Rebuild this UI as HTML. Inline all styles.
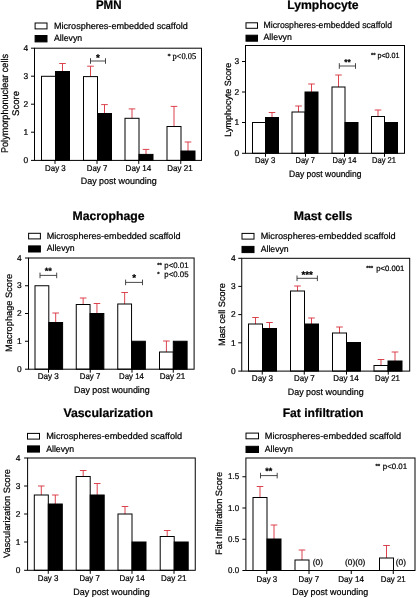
<!DOCTYPE html>
<html><head><meta charset="utf-8"><title>Histology scores</title>
<style>
html,body{margin:0;padding:0;background:#fff;}
svg{display:block;font-family:"Liberation Sans",sans-serif;}
text{stroke:#000;stroke-width:0.22px;text-rendering:geometricPrecision;}
</style></head>
<body>
<div style="will-change:transform;width:416px;height:598px">
<svg width="416" height="598" viewBox="0 0 416 598">
<rect x="0" y="0" width="416" height="598" fill="#fff"/>
<line x1="31" y1="48.2" x2="34.5" y2="48.2" stroke="#000" stroke-width="1"/>
<text x="28.1" y="50.92" font-size="8.4" text-anchor="end">4</text>
<line x1="31" y1="76.2" x2="34.5" y2="76.2" stroke="#000" stroke-width="1"/>
<text x="28.1" y="78.92" font-size="8.4" text-anchor="end">3</text>
<line x1="31" y1="104.2" x2="34.5" y2="104.2" stroke="#000" stroke-width="1"/>
<text x="28.1" y="106.92" font-size="8.4" text-anchor="end">2</text>
<line x1="31" y1="132.2" x2="34.5" y2="132.2" stroke="#000" stroke-width="1"/>
<text x="28.1" y="134.92" font-size="8.4" text-anchor="end">1</text>
<line x1="31" y1="160.4" x2="34.5" y2="160.4" stroke="#000" stroke-width="1"/>
<text x="28.1" y="163.12" font-size="8.4" text-anchor="end">0</text>
<line x1="62.5" y1="63.5" x2="62.5" y2="71.5" stroke="#d93a44" stroke-width="0.95"/>
<line x1="59.2" y1="63.5" x2="65.8" y2="63.5" stroke="#d93a44" stroke-width="0.95"/>
<rect x="41.5" y="76.3" width="14" height="84.1" fill="#fff" stroke="#000" stroke-width="1"/>
<rect x="55.5" y="71.5" width="14" height="88.9" fill="#000" stroke="#000" stroke-width="1"/>
<line x1="90.5" y1="66.2" x2="90.5" y2="76.6" stroke="#d93a44" stroke-width="0.95"/>
<line x1="87.2" y1="66.2" x2="93.8" y2="66.2" stroke="#d93a44" stroke-width="0.95"/>
<line x1="104.5" y1="104.6" x2="104.5" y2="113.5" stroke="#d93a44" stroke-width="0.95"/>
<line x1="101.2" y1="104.6" x2="107.8" y2="104.6" stroke="#d93a44" stroke-width="0.95"/>
<rect x="83.5" y="76.6" width="14" height="83.8" fill="#fff" stroke="#000" stroke-width="1"/>
<rect x="97.5" y="113.5" width="14" height="46.9" fill="#000" stroke="#000" stroke-width="1"/>
<line x1="132" y1="108.9" x2="132" y2="118.3" stroke="#d93a44" stroke-width="0.95"/>
<line x1="128.7" y1="108.9" x2="135.3" y2="108.9" stroke="#d93a44" stroke-width="0.95"/>
<line x1="146" y1="149.4" x2="146" y2="154.4" stroke="#d93a44" stroke-width="0.95"/>
<line x1="142.7" y1="149.4" x2="149.3" y2="149.4" stroke="#d93a44" stroke-width="0.95"/>
<rect x="125" y="118.3" width="14" height="42.1" fill="#fff" stroke="#000" stroke-width="1"/>
<rect x="139" y="154.4" width="14" height="6" fill="#000" stroke="#000" stroke-width="1"/>
<line x1="174" y1="106.4" x2="174" y2="126.5" stroke="#d93a44" stroke-width="0.95"/>
<line x1="170.7" y1="106.4" x2="177.3" y2="106.4" stroke="#d93a44" stroke-width="0.95"/>
<line x1="188" y1="142" x2="188" y2="151" stroke="#d93a44" stroke-width="0.95"/>
<line x1="184.7" y1="142" x2="191.3" y2="142" stroke="#d93a44" stroke-width="0.95"/>
<rect x="167" y="126.5" width="14" height="33.9" fill="#fff" stroke="#000" stroke-width="1"/>
<rect x="181" y="151" width="14" height="9.4" fill="#000" stroke="#000" stroke-width="1"/>
<rect x="34.5" y="48.2" width="167" height="112.2" fill="none" stroke="#000" stroke-width="1"/>
<line x1="55" y1="160.4" x2="55" y2="163.9" stroke="#000" stroke-width="1"/>
<text x="55.4" y="170.5" font-size="8.4" text-anchor="middle" textLength="20.75" lengthAdjust="spacingAndGlyphs">Day 3</text>
<line x1="97" y1="160.4" x2="97" y2="163.9" stroke="#000" stroke-width="1"/>
<text x="97" y="170.5" font-size="8.4" text-anchor="middle" textLength="20.5" lengthAdjust="spacingAndGlyphs">Day 7</text>
<line x1="138.75" y1="160.4" x2="138.75" y2="163.9" stroke="#000" stroke-width="1"/>
<text x="138.4" y="170.5" font-size="8.4" text-anchor="middle" textLength="25.75" lengthAdjust="spacingAndGlyphs">Day 14</text>
<line x1="180.75" y1="160.4" x2="180.75" y2="163.9" stroke="#000" stroke-width="1"/>
<text x="180" y="170.5" font-size="8.4" text-anchor="middle" textLength="25.5" lengthAdjust="spacingAndGlyphs">Day 21</text>
<text x="118.75" y="184.25" font-size="9.2" text-anchor="middle" textLength="76" lengthAdjust="spacingAndGlyphs">Day post wounding</text>
<text x="8.4" y="103.5" font-size="9.8" text-anchor="middle" transform="rotate(-90 8.4 103.5)" textLength="99" lengthAdjust="spacingAndGlyphs">Polymorphonuclear cells</text>
<text x="18.6" y="103.5" font-size="9.6" text-anchor="middle" transform="rotate(-90 18.6 103.5)" textLength="25" lengthAdjust="spacingAndGlyphs">Score</text>
<text x="108.7" y="9.4" font-size="12.2" text-anchor="middle" textLength="25.6" lengthAdjust="spacingAndGlyphs" font-weight="bold">PMN</text>
<rect x="35.1" y="23" width="11.9" height="5.9" fill="#fff" stroke="#000" stroke-width="1"/>
<rect x="35.1" y="35.5" width="11.9" height="6.4" fill="#000" stroke="#000" stroke-width="1"/>
<text x="54" y="28.5" font-size="9" text-anchor="start" textLength="133.75" lengthAdjust="spacingAndGlyphs">Microspheres-embedded scaffold</text>
<text x="54" y="41.3" font-size="9" text-anchor="start" textLength="28.1" lengthAdjust="spacingAndGlyphs">Allevyn</text>
<line x1="90.5" y1="61" x2="105.5" y2="61" stroke="#333" stroke-width="0.9"/>
<line x1="90.5" y1="58.2" x2="90.5" y2="63.8" stroke="#333" stroke-width="0.9"/>
<line x1="105.5" y1="58.2" x2="105.5" y2="63.8" stroke="#333" stroke-width="0.9"/>
<text x="98" y="61" font-size="9.8" text-anchor="middle" font-weight="bold">*</text>
<text x="167.4" y="57.6" font-size="6.4" text-anchor="start" font-family="Liberation Serif, serif">*</text>
<text x="172.4" y="59" font-size="8.8" text-anchor="start" textLength="23.8" lengthAdjust="spacingAndGlyphs" font-family="Liberation Serif, serif">p&lt;0.05</text>
<line x1="242" y1="61.5" x2="245.5" y2="61.5" stroke="#000" stroke-width="1"/>
<text x="239.1" y="64.22" font-size="8.4" text-anchor="end">3</text>
<line x1="242" y1="92" x2="245.5" y2="92" stroke="#000" stroke-width="1"/>
<text x="239.1" y="94.72" font-size="8.4" text-anchor="end">2</text>
<line x1="242" y1="122.5" x2="245.5" y2="122.5" stroke="#000" stroke-width="1"/>
<text x="239.1" y="125.22" font-size="8.4" text-anchor="end">1</text>
<line x1="242" y1="153.3" x2="245.5" y2="153.3" stroke="#000" stroke-width="1"/>
<text x="239.1" y="156.02" font-size="8.4" text-anchor="end">0</text>
<line x1="272" y1="112.5" x2="272" y2="117.5" stroke="#d93a44" stroke-width="0.95"/>
<line x1="268.7" y1="112.5" x2="275.3" y2="112.5" stroke="#d93a44" stroke-width="0.95"/>
<rect x="252.5" y="122.5" width="13" height="30.8" fill="#fff" stroke="#000" stroke-width="1"/>
<rect x="265.5" y="117.5" width="13" height="35.8" fill="#000" stroke="#000" stroke-width="1"/>
<line x1="298.5" y1="106" x2="298.5" y2="112" stroke="#d93a44" stroke-width="0.95"/>
<line x1="295.2" y1="106" x2="301.8" y2="106" stroke="#d93a44" stroke-width="0.95"/>
<line x1="311.5" y1="84" x2="311.5" y2="92" stroke="#d93a44" stroke-width="0.95"/>
<line x1="308.2" y1="84" x2="314.8" y2="84" stroke="#d93a44" stroke-width="0.95"/>
<rect x="292" y="112" width="13" height="41.3" fill="#fff" stroke="#000" stroke-width="1"/>
<rect x="305" y="92" width="13" height="61.3" fill="#000" stroke="#000" stroke-width="1"/>
<line x1="338.5" y1="75" x2="338.5" y2="87" stroke="#d93a44" stroke-width="0.95"/>
<line x1="335.2" y1="75" x2="341.8" y2="75" stroke="#d93a44" stroke-width="0.95"/>
<rect x="332" y="87" width="13" height="66.3" fill="#fff" stroke="#000" stroke-width="1"/>
<rect x="345" y="122.5" width="13" height="30.8" fill="#000" stroke="#000" stroke-width="1"/>
<line x1="378" y1="110" x2="378" y2="116.5" stroke="#d93a44" stroke-width="0.95"/>
<line x1="374.7" y1="110" x2="381.3" y2="110" stroke="#d93a44" stroke-width="0.95"/>
<rect x="371.5" y="116.5" width="13" height="36.8" fill="#fff" stroke="#000" stroke-width="1"/>
<rect x="384.5" y="122.5" width="13" height="30.8" fill="#000" stroke="#000" stroke-width="1"/>
<rect x="245.5" y="45.5" width="159" height="107.8" fill="none" stroke="#000" stroke-width="1"/>
<line x1="265.5" y1="153.3" x2="265.5" y2="156.8" stroke="#000" stroke-width="1"/>
<text x="265.1" y="163.3" font-size="8.4" text-anchor="middle" textLength="20.4" lengthAdjust="spacingAndGlyphs">Day 3</text>
<line x1="305.5" y1="153.3" x2="305.5" y2="156.8" stroke="#000" stroke-width="1"/>
<text x="305.25" y="163.3" font-size="8.4" text-anchor="middle" textLength="19.5" lengthAdjust="spacingAndGlyphs">Day 7</text>
<line x1="344.5" y1="153.3" x2="344.5" y2="156.8" stroke="#000" stroke-width="1"/>
<text x="344.5" y="163.3" font-size="8.4" text-anchor="middle" textLength="24" lengthAdjust="spacingAndGlyphs">Day 14</text>
<line x1="384.5" y1="153.3" x2="384.5" y2="156.8" stroke="#000" stroke-width="1"/>
<text x="384" y="163.3" font-size="8.4" text-anchor="middle" textLength="24" lengthAdjust="spacingAndGlyphs">Day 21</text>
<text x="325.25" y="177.2" font-size="9.2" text-anchor="middle" textLength="72.5" lengthAdjust="spacingAndGlyphs">Day post wounding</text>
<text x="230.6" y="99.7" font-size="9" text-anchor="middle" transform="rotate(-90 230.6 99.7)" textLength="74" lengthAdjust="spacingAndGlyphs">Lymphocyte Score</text>
<text x="322.9" y="9.3" font-size="12.2" text-anchor="middle" textLength="71.4" lengthAdjust="spacingAndGlyphs" font-weight="bold">Lymphocyte</text>
<rect x="246" y="22.8" width="11.5" height="5.5" fill="#fff" stroke="#000" stroke-width="1"/>
<rect x="246" y="35.2" width="11.5" height="6" fill="#000" stroke="#000" stroke-width="1"/>
<text x="263.5" y="27.8" font-size="9" text-anchor="start" textLength="128.5" lengthAdjust="spacingAndGlyphs">Microspheres-embedded scaffold</text>
<text x="263.5" y="40.3" font-size="9" text-anchor="start" textLength="28.3" lengthAdjust="spacingAndGlyphs">Allevyn</text>
<line x1="339.3" y1="66" x2="355.5" y2="66" stroke="#333" stroke-width="0.9"/>
<line x1="339.3" y1="63.2" x2="339.3" y2="68.8" stroke="#333" stroke-width="0.9"/>
<line x1="355.5" y1="63.2" x2="355.5" y2="68.8" stroke="#333" stroke-width="0.9"/>
<text x="347.4" y="65.3" font-size="8.4" text-anchor="middle" font-weight="bold">**</text>
<text x="371" y="56.9" font-size="6" text-anchor="start" font-weight="bold">**</text><text x="377.5" y="57.9" font-size="7.6" text-anchor="start" textLength="22" lengthAdjust="spacingAndGlyphs">p&lt;0.01</text>
<line x1="25" y1="258" x2="28.5" y2="258" stroke="#000" stroke-width="1"/>
<text x="21.6" y="260.72" font-size="8.4" text-anchor="end">4</text>
<line x1="25" y1="285.75" x2="28.5" y2="285.75" stroke="#000" stroke-width="1"/>
<text x="21.6" y="288.47" font-size="8.4" text-anchor="end">3</text>
<line x1="25" y1="313.5" x2="28.5" y2="313.5" stroke="#000" stroke-width="1"/>
<text x="21.6" y="316.22" font-size="8.4" text-anchor="end">2</text>
<line x1="25" y1="341.25" x2="28.5" y2="341.25" stroke="#000" stroke-width="1"/>
<text x="21.6" y="343.97" font-size="8.4" text-anchor="end">1</text>
<line x1="25" y1="369.2" x2="28.5" y2="369.2" stroke="#000" stroke-width="1"/>
<text x="21.6" y="371.92" font-size="8.4" text-anchor="end">0</text>
<line x1="55.7" y1="313" x2="55.7" y2="322.5" stroke="#d93a44" stroke-width="0.95"/>
<line x1="52.4" y1="313" x2="59" y2="313" stroke="#d93a44" stroke-width="0.95"/>
<rect x="35" y="285.75" width="13.8" height="83.45" fill="#fff" stroke="#000" stroke-width="1"/>
<rect x="48.8" y="322.5" width="13.8" height="46.7" fill="#000" stroke="#000" stroke-width="1"/>
<line x1="83.15" y1="298" x2="83.15" y2="304.5" stroke="#d93a44" stroke-width="0.95"/>
<line x1="79.85" y1="298" x2="86.45" y2="298" stroke="#d93a44" stroke-width="0.95"/>
<line x1="96.95" y1="303.5" x2="96.95" y2="313.5" stroke="#d93a44" stroke-width="0.95"/>
<line x1="93.65" y1="303.5" x2="100.25" y2="303.5" stroke="#d93a44" stroke-width="0.95"/>
<rect x="76.25" y="304.5" width="13.8" height="64.7" fill="#fff" stroke="#000" stroke-width="1"/>
<rect x="90.05" y="313.5" width="13.8" height="55.7" fill="#000" stroke="#000" stroke-width="1"/>
<line x1="124.65" y1="292.5" x2="124.65" y2="304" stroke="#d93a44" stroke-width="0.95"/>
<line x1="121.35" y1="292.5" x2="127.95" y2="292.5" stroke="#d93a44" stroke-width="0.95"/>
<rect x="117.75" y="304" width="13.8" height="65.2" fill="#fff" stroke="#000" stroke-width="1"/>
<rect x="131.55" y="341.25" width="13.8" height="27.95" fill="#000" stroke="#000" stroke-width="1"/>
<line x1="166.4" y1="341" x2="166.4" y2="352" stroke="#d93a44" stroke-width="0.95"/>
<line x1="163.1" y1="341" x2="169.7" y2="341" stroke="#d93a44" stroke-width="0.95"/>
<rect x="159.5" y="352" width="13.8" height="17.2" fill="#fff" stroke="#000" stroke-width="1"/>
<rect x="173.3" y="341.25" width="13.8" height="27.95" fill="#000" stroke="#000" stroke-width="1"/>
<rect x="28.5" y="258" width="165.6" height="111.2" fill="none" stroke="#000" stroke-width="1"/>
<line x1="48.5" y1="369.2" x2="48.5" y2="372.7" stroke="#000" stroke-width="1"/>
<text x="48.3" y="379.4" font-size="8.4" text-anchor="middle" textLength="21.2" lengthAdjust="spacingAndGlyphs">Day 3</text>
<line x1="90.25" y1="369.2" x2="90.25" y2="372.7" stroke="#000" stroke-width="1"/>
<text x="90" y="379.4" font-size="8.4" text-anchor="middle" textLength="20.5" lengthAdjust="spacingAndGlyphs">Day 7</text>
<line x1="132" y1="369.2" x2="132" y2="372.7" stroke="#000" stroke-width="1"/>
<text x="131.5" y="379.4" font-size="8.4" text-anchor="middle" textLength="25" lengthAdjust="spacingAndGlyphs">Day 14</text>
<line x1="173.25" y1="369.2" x2="173.25" y2="372.7" stroke="#000" stroke-width="1"/>
<text x="172.5" y="379.4" font-size="8.4" text-anchor="middle" textLength="25.5" lengthAdjust="spacingAndGlyphs">Day 21</text>
<text x="111.9" y="392.75" font-size="9.2" text-anchor="middle" textLength="75.75" lengthAdjust="spacingAndGlyphs">Day post wounding</text>
<text x="11.8" y="312.9" font-size="9.2" text-anchor="middle" transform="rotate(-90 11.8 312.9)" textLength="78" lengthAdjust="spacingAndGlyphs">Macrophage Score</text>
<text x="108.5" y="220.1" font-size="12.2" text-anchor="middle" textLength="72.1" lengthAdjust="spacingAndGlyphs" font-weight="bold">Macrophage</text>
<rect x="28.6" y="233.3" width="11.8" height="5.6" fill="#fff" stroke="#000" stroke-width="1"/>
<rect x="28.6" y="245.9" width="11.8" height="6.1" fill="#000" stroke="#000" stroke-width="1"/>
<text x="46.7" y="238.7" font-size="9" text-anchor="start" textLength="133.75" lengthAdjust="spacingAndGlyphs">Microspheres-embedded scaffold</text>
<text x="46.7" y="251.3" font-size="9" text-anchor="start" textLength="28" lengthAdjust="spacingAndGlyphs">Allevyn</text>
<line x1="40" y1="275.4" x2="56.7" y2="275.4" stroke="#333" stroke-width="0.9"/>
<line x1="40" y1="272.6" x2="40" y2="278.2" stroke="#333" stroke-width="0.9"/>
<line x1="56.7" y1="272.6" x2="56.7" y2="278.2" stroke="#333" stroke-width="0.9"/>
<text x="48.35" y="273.7" font-size="9.2" text-anchor="middle" font-weight="bold">**</text>
<line x1="125.6" y1="282.4" x2="142.5" y2="282.4" stroke="#333" stroke-width="0.9"/>
<line x1="125.6" y1="279.6" x2="125.6" y2="285.2" stroke="#333" stroke-width="0.9"/>
<line x1="142.5" y1="279.6" x2="142.5" y2="285.2" stroke="#333" stroke-width="0.9"/>
<text x="134.05" y="280.8" font-size="9.8" text-anchor="middle" font-weight="bold">*</text>
<text x="157.2" y="266.8" font-size="6" text-anchor="start" font-weight="bold">**</text><text x="164.3" y="267.8" font-size="8" text-anchor="start" textLength="24.2" lengthAdjust="spacingAndGlyphs">p&lt;0.01</text>
<text x="157.2" y="275.7" font-size="6" text-anchor="start" font-weight="bold">*</text><text x="164.3" y="276.7" font-size="8" text-anchor="start" textLength="24.2" lengthAdjust="spacingAndGlyphs">p&lt;0.05</text>
<line x1="238.25" y1="258.3" x2="241.75" y2="258.3" stroke="#000" stroke-width="1"/>
<text x="235.55" y="261.02" font-size="8.4" text-anchor="end">4</text>
<line x1="238.25" y1="286.4" x2="241.75" y2="286.4" stroke="#000" stroke-width="1"/>
<text x="235.55" y="289.12" font-size="8.4" text-anchor="end">3</text>
<line x1="238.25" y1="314.6" x2="241.75" y2="314.6" stroke="#000" stroke-width="1"/>
<text x="235.55" y="317.32" font-size="8.4" text-anchor="end">2</text>
<line x1="238.25" y1="342.8" x2="241.75" y2="342.8" stroke="#000" stroke-width="1"/>
<text x="235.55" y="345.52" font-size="8.4" text-anchor="end">1</text>
<line x1="238.25" y1="371.1" x2="241.75" y2="371.1" stroke="#000" stroke-width="1"/>
<text x="235.55" y="373.82" font-size="8.4" text-anchor="end">0</text>
<line x1="255.5" y1="317.5" x2="255.5" y2="324" stroke="#d93a44" stroke-width="0.95"/>
<line x1="252.2" y1="317.5" x2="258.8" y2="317.5" stroke="#d93a44" stroke-width="0.95"/>
<line x1="269.5" y1="322.5" x2="269.5" y2="328.5" stroke="#d93a44" stroke-width="0.95"/>
<line x1="266.2" y1="322.5" x2="272.8" y2="322.5" stroke="#d93a44" stroke-width="0.95"/>
<rect x="248.5" y="324" width="14" height="47.1" fill="#fff" stroke="#000" stroke-width="1"/>
<rect x="262.5" y="328.5" width="14" height="42.6" fill="#000" stroke="#000" stroke-width="1"/>
<line x1="297.5" y1="286" x2="297.5" y2="291" stroke="#d93a44" stroke-width="0.95"/>
<line x1="294.2" y1="286" x2="300.8" y2="286" stroke="#d93a44" stroke-width="0.95"/>
<line x1="311.5" y1="318" x2="311.5" y2="324" stroke="#d93a44" stroke-width="0.95"/>
<line x1="308.2" y1="318" x2="314.8" y2="318" stroke="#d93a44" stroke-width="0.95"/>
<rect x="290.5" y="291" width="14" height="80.1" fill="#fff" stroke="#000" stroke-width="1"/>
<rect x="304.5" y="324" width="14" height="47.1" fill="#000" stroke="#000" stroke-width="1"/>
<line x1="339.5" y1="327" x2="339.5" y2="333" stroke="#d93a44" stroke-width="0.95"/>
<line x1="336.2" y1="327" x2="342.8" y2="327" stroke="#d93a44" stroke-width="0.95"/>
<rect x="332.5" y="333" width="14" height="38.1" fill="#fff" stroke="#000" stroke-width="1"/>
<rect x="346.5" y="342.5" width="14" height="28.6" fill="#000" stroke="#000" stroke-width="1"/>
<line x1="381" y1="359.5" x2="381" y2="365.5" stroke="#d93a44" stroke-width="0.95"/>
<line x1="377.7" y1="359.5" x2="384.3" y2="359.5" stroke="#d93a44" stroke-width="0.95"/>
<line x1="395" y1="352" x2="395" y2="361" stroke="#d93a44" stroke-width="0.95"/>
<line x1="391.7" y1="352" x2="398.3" y2="352" stroke="#d93a44" stroke-width="0.95"/>
<rect x="374" y="365.5" width="14" height="5.6" fill="#fff" stroke="#000" stroke-width="1"/>
<rect x="388" y="361" width="14" height="10.1" fill="#000" stroke="#000" stroke-width="1"/>
<rect x="241.75" y="258.3" width="167.95" height="112.8" fill="none" stroke="#000" stroke-width="1"/>
<line x1="262.25" y1="371.1" x2="262.25" y2="374.6" stroke="#000" stroke-width="1"/>
<text x="262.4" y="381.4" font-size="8.4" text-anchor="middle" textLength="21.25" lengthAdjust="spacingAndGlyphs">Day 3</text>
<line x1="304.25" y1="371.1" x2="304.25" y2="374.6" stroke="#000" stroke-width="1"/>
<text x="304.4" y="381.4" font-size="8.4" text-anchor="middle" textLength="20.75" lengthAdjust="spacingAndGlyphs">Day 7</text>
<line x1="346.5" y1="371.1" x2="346.5" y2="374.6" stroke="#000" stroke-width="1"/>
<text x="346" y="381.4" font-size="8.4" text-anchor="middle" textLength="25.5" lengthAdjust="spacingAndGlyphs">Day 14</text>
<line x1="388.25" y1="371.1" x2="388.25" y2="374.6" stroke="#000" stroke-width="1"/>
<text x="387.5" y="381.4" font-size="8.4" text-anchor="middle" textLength="25" lengthAdjust="spacingAndGlyphs">Day 21</text>
<text x="325.75" y="394.75" font-size="9.2" text-anchor="middle" textLength="76" lengthAdjust="spacingAndGlyphs">Day post wounding</text>
<text x="225.5" y="314.6" font-size="9.2" text-anchor="middle" transform="rotate(-90 225.5 314.6)" textLength="62.8" lengthAdjust="spacingAndGlyphs">Mast cell Score</text>
<text x="323" y="219.9" font-size="12.2" text-anchor="middle" textLength="58.65" lengthAdjust="spacingAndGlyphs" font-weight="bold">Mast cells</text>
<rect x="242" y="233.4" width="12" height="5.7" fill="#fff" stroke="#000" stroke-width="1"/>
<rect x="242" y="246.4" width="12" height="6.2" fill="#000" stroke="#000" stroke-width="1"/>
<text x="260.7" y="239" font-size="9" text-anchor="start" textLength="135" lengthAdjust="spacingAndGlyphs">Microspheres-embedded scaffold</text>
<text x="260.7" y="251.6" font-size="9" text-anchor="start" textLength="28" lengthAdjust="spacingAndGlyphs">Allevyn</text>
<line x1="297" y1="278.3" x2="317.4" y2="278.3" stroke="#333" stroke-width="0.9"/>
<line x1="297" y1="275.5" x2="297" y2="281.1" stroke="#333" stroke-width="0.9"/>
<line x1="317.4" y1="275.5" x2="317.4" y2="281.1" stroke="#333" stroke-width="0.9"/>
<text x="307.2" y="277.5" font-size="9.8" text-anchor="middle" font-weight="bold">***</text>
<text x="366.2" y="269.8" font-size="6" text-anchor="start" font-weight="bold">***</text><text x="376.25" y="270.8" font-size="7.8" text-anchor="start" textLength="28.1" lengthAdjust="spacingAndGlyphs">p&lt;0.001</text>
<line x1="24.1" y1="458" x2="27.6" y2="458" stroke="#000" stroke-width="1"/>
<text x="20.3" y="460.72" font-size="8.4" text-anchor="end">4</text>
<line x1="24.1" y1="486" x2="27.6" y2="486" stroke="#000" stroke-width="1"/>
<text x="20.3" y="488.72" font-size="8.4" text-anchor="end">3</text>
<line x1="24.1" y1="514" x2="27.6" y2="514" stroke="#000" stroke-width="1"/>
<text x="20.3" y="516.72" font-size="8.4" text-anchor="end">2</text>
<line x1="24.1" y1="542" x2="27.6" y2="542" stroke="#000" stroke-width="1"/>
<text x="20.3" y="544.72" font-size="8.4" text-anchor="end">1</text>
<line x1="24.1" y1="570.3" x2="27.6" y2="570.3" stroke="#000" stroke-width="1"/>
<text x="20.3" y="573.02" font-size="8.4" text-anchor="end">0</text>
<line x1="41.3" y1="486" x2="41.3" y2="495" stroke="#d93a44" stroke-width="0.95"/>
<line x1="38" y1="486" x2="44.6" y2="486" stroke="#d93a44" stroke-width="0.95"/>
<line x1="55.3" y1="495" x2="55.3" y2="504" stroke="#d93a44" stroke-width="0.95"/>
<line x1="52" y1="495" x2="58.6" y2="495" stroke="#d93a44" stroke-width="0.95"/>
<rect x="34.3" y="495" width="14" height="75.3" fill="#fff" stroke="#000" stroke-width="1"/>
<rect x="48.3" y="504" width="14" height="66.3" fill="#000" stroke="#000" stroke-width="1"/>
<line x1="83.2" y1="470.5" x2="83.2" y2="476.5" stroke="#d93a44" stroke-width="0.95"/>
<line x1="79.9" y1="470.5" x2="86.5" y2="470.5" stroke="#d93a44" stroke-width="0.95"/>
<line x1="97.2" y1="483.5" x2="97.2" y2="495" stroke="#d93a44" stroke-width="0.95"/>
<line x1="93.9" y1="483.5" x2="100.5" y2="483.5" stroke="#d93a44" stroke-width="0.95"/>
<rect x="76.2" y="476.5" width="14" height="93.8" fill="#fff" stroke="#000" stroke-width="1"/>
<rect x="90.2" y="495" width="14" height="75.3" fill="#000" stroke="#000" stroke-width="1"/>
<line x1="125" y1="506.5" x2="125" y2="514" stroke="#d93a44" stroke-width="0.95"/>
<line x1="121.7" y1="506.5" x2="128.3" y2="506.5" stroke="#d93a44" stroke-width="0.95"/>
<rect x="118" y="514" width="14" height="56.3" fill="#fff" stroke="#000" stroke-width="1"/>
<rect x="132" y="542" width="14" height="28.3" fill="#000" stroke="#000" stroke-width="1"/>
<line x1="167.2" y1="530.5" x2="167.2" y2="536.5" stroke="#d93a44" stroke-width="0.95"/>
<line x1="163.9" y1="530.5" x2="170.5" y2="530.5" stroke="#d93a44" stroke-width="0.95"/>
<rect x="160.2" y="536.5" width="14" height="33.8" fill="#fff" stroke="#000" stroke-width="1"/>
<rect x="174.2" y="542" width="14" height="28.3" fill="#000" stroke="#000" stroke-width="1"/>
<rect x="27.6" y="458" width="167.65" height="112.3" fill="none" stroke="#000" stroke-width="1"/>
<line x1="48.25" y1="570.3" x2="48.25" y2="573.8" stroke="#000" stroke-width="1"/>
<text x="48.1" y="581.4" font-size="8.4" text-anchor="middle" textLength="20.75" lengthAdjust="spacingAndGlyphs">Day 3</text>
<line x1="90.25" y1="570.3" x2="90.25" y2="573.8" stroke="#000" stroke-width="1"/>
<text x="89.6" y="581.4" font-size="8.4" text-anchor="middle" textLength="20.25" lengthAdjust="spacingAndGlyphs">Day 7</text>
<line x1="132" y1="570.3" x2="132" y2="573.8" stroke="#000" stroke-width="1"/>
<text x="132.1" y="581.4" font-size="8.4" text-anchor="middle" textLength="25.25" lengthAdjust="spacingAndGlyphs">Day 14</text>
<line x1="174" y1="570.3" x2="174" y2="573.8" stroke="#000" stroke-width="1"/>
<text x="173.75" y="581.4" font-size="8.4" text-anchor="middle" textLength="25.5" lengthAdjust="spacingAndGlyphs">Day 21</text>
<text x="111.5" y="594.75" font-size="9.2" text-anchor="middle" textLength="76.5" lengthAdjust="spacingAndGlyphs">Day post wounding</text>
<text x="9.6" y="513.5" font-size="9.2" text-anchor="middle" transform="rotate(-90 9.6 513.5)" textLength="89" lengthAdjust="spacingAndGlyphs">Vascularization Score</text>
<text x="108.2" y="416.75" font-size="12.2" text-anchor="middle" textLength="89.6" lengthAdjust="spacingAndGlyphs" font-weight="bold">Vascularization</text>
<rect x="27.5" y="433.4" width="12" height="5.7" fill="#fff" stroke="#000" stroke-width="1"/>
<rect x="27.5" y="445.9" width="12" height="6.2" fill="#000" stroke="#000" stroke-width="1"/>
<text x="46.2" y="438.9" font-size="9" text-anchor="start" textLength="136" lengthAdjust="spacingAndGlyphs">Microspheres-embedded scaffold</text>
<text x="46.2" y="452" font-size="9" text-anchor="start" textLength="28" lengthAdjust="spacingAndGlyphs">Allevyn</text>
<line x1="242.4" y1="476.75" x2="245.9" y2="476.75" stroke="#000" stroke-width="1"/>
<text x="239.1" y="479.47" font-size="8.4" text-anchor="end" textLength="11.1" lengthAdjust="spacingAndGlyphs">1.5</text>
<line x1="242.4" y1="508" x2="245.9" y2="508" stroke="#000" stroke-width="1"/>
<text x="239.1" y="510.72" font-size="8.4" text-anchor="end" textLength="11.1" lengthAdjust="spacingAndGlyphs">1.0</text>
<line x1="242.4" y1="539.25" x2="245.9" y2="539.25" stroke="#000" stroke-width="1"/>
<text x="239.1" y="541.97" font-size="8.4" text-anchor="end" textLength="11.1" lengthAdjust="spacingAndGlyphs">0.5</text>
<line x1="242.4" y1="570.5" x2="245.9" y2="570.5" stroke="#000" stroke-width="1"/>
<text x="239.1" y="573.22" font-size="8.4" text-anchor="end" textLength="11.1" lengthAdjust="spacingAndGlyphs">0.0</text>
<line x1="260" y1="486.5" x2="260" y2="497.5" stroke="#d93a44" stroke-width="0.95"/>
<line x1="256.7" y1="486.5" x2="263.3" y2="486.5" stroke="#d93a44" stroke-width="0.95"/>
<line x1="274" y1="525" x2="274" y2="539" stroke="#d93a44" stroke-width="0.95"/>
<line x1="270.7" y1="525" x2="277.3" y2="525" stroke="#d93a44" stroke-width="0.95"/>
<rect x="253" y="497.5" width="14" height="73" fill="#fff" stroke="#000" stroke-width="1"/>
<rect x="267" y="539" width="14" height="31.5" fill="#000" stroke="#000" stroke-width="1"/>
<line x1="302" y1="550" x2="302" y2="560" stroke="#d93a44" stroke-width="0.95"/>
<line x1="298.7" y1="550" x2="305.3" y2="550" stroke="#d93a44" stroke-width="0.95"/>
<rect x="295" y="560" width="14" height="10.5" fill="#fff" stroke="#000" stroke-width="1"/>
<line x1="386.5" y1="545.5" x2="386.5" y2="558" stroke="#d93a44" stroke-width="0.95"/>
<line x1="383.2" y1="545.5" x2="389.8" y2="545.5" stroke="#d93a44" stroke-width="0.95"/>
<rect x="379.5" y="558" width="14" height="12.5" fill="#fff" stroke="#000" stroke-width="1"/>
<rect x="245.9" y="458" width="169.1" height="112.5" fill="none" stroke="#000" stroke-width="1"/>
<line x1="266.75" y1="570.5" x2="266.75" y2="574" stroke="#000" stroke-width="1"/>
<text x="266.9" y="581.6" font-size="8.4" text-anchor="middle" textLength="20.75" lengthAdjust="spacingAndGlyphs">Day 3</text>
<line x1="309" y1="570.5" x2="309" y2="574" stroke="#000" stroke-width="1"/>
<text x="308.75" y="581.6" font-size="8.4" text-anchor="middle" textLength="20.5" lengthAdjust="spacingAndGlyphs">Day 7</text>
<line x1="351.25" y1="570.5" x2="351.25" y2="574" stroke="#000" stroke-width="1"/>
<text x="351.1" y="581.6" font-size="8.4" text-anchor="middle" textLength="25.75" lengthAdjust="spacingAndGlyphs">Day 14</text>
<line x1="393.25" y1="570.5" x2="393.25" y2="574" stroke="#000" stroke-width="1"/>
<text x="393.25" y="581.6" font-size="8.4" text-anchor="middle" textLength="25" lengthAdjust="spacingAndGlyphs">Day 21</text>
<text x="330.25" y="594.75" font-size="9.2" text-anchor="middle" textLength="76" lengthAdjust="spacingAndGlyphs">Day post wounding</text>
<text x="222.3" y="513.4" font-size="9.2" text-anchor="middle" transform="rotate(-90 222.3 513.4)" textLength="83" lengthAdjust="spacingAndGlyphs">Fat Infiltration Score</text>
<text x="323.1" y="416.75" font-size="12.2" text-anchor="middle" textLength="80.75" lengthAdjust="spacingAndGlyphs" font-weight="bold">Fat infiltration</text>
<rect x="246" y="433.1" width="12.5" height="5.7" fill="#fff" stroke="#000" stroke-width="1"/>
<rect x="246" y="446.3" width="12.5" height="6.2" fill="#000" stroke="#000" stroke-width="1"/>
<text x="264.8" y="439.1" font-size="9" text-anchor="start" textLength="136.3" lengthAdjust="spacingAndGlyphs">Microspheres-embedded scaffold</text>
<text x="264.8" y="452" font-size="9" text-anchor="start" textLength="28" lengthAdjust="spacingAndGlyphs">Allevyn</text>
<line x1="260.5" y1="475.6" x2="277.2" y2="475.6" stroke="#333" stroke-width="0.9"/>
<line x1="260.5" y1="472.8" x2="260.5" y2="478.4" stroke="#333" stroke-width="0.9"/>
<line x1="277.2" y1="472.8" x2="277.2" y2="478.4" stroke="#333" stroke-width="0.9"/>
<text x="268.85" y="474.1" font-size="9" text-anchor="middle" font-weight="bold">**</text>
<text x="375.5" y="467.5" font-size="6" text-anchor="start" font-weight="bold">**</text><text x="382.75" y="468.5" font-size="7.9" text-anchor="start" textLength="24.4" lengthAdjust="spacingAndGlyphs">p&lt;0.01</text>
<text x="312.75" y="565" font-size="8.3" text-anchor="start">(0)</text>
<text x="345" y="565" font-size="8.3" text-anchor="start">(0)(0)</text>
<text x="395.75" y="565" font-size="8.3" text-anchor="start">(0)</text>
</svg>
</div>
</body></html>
